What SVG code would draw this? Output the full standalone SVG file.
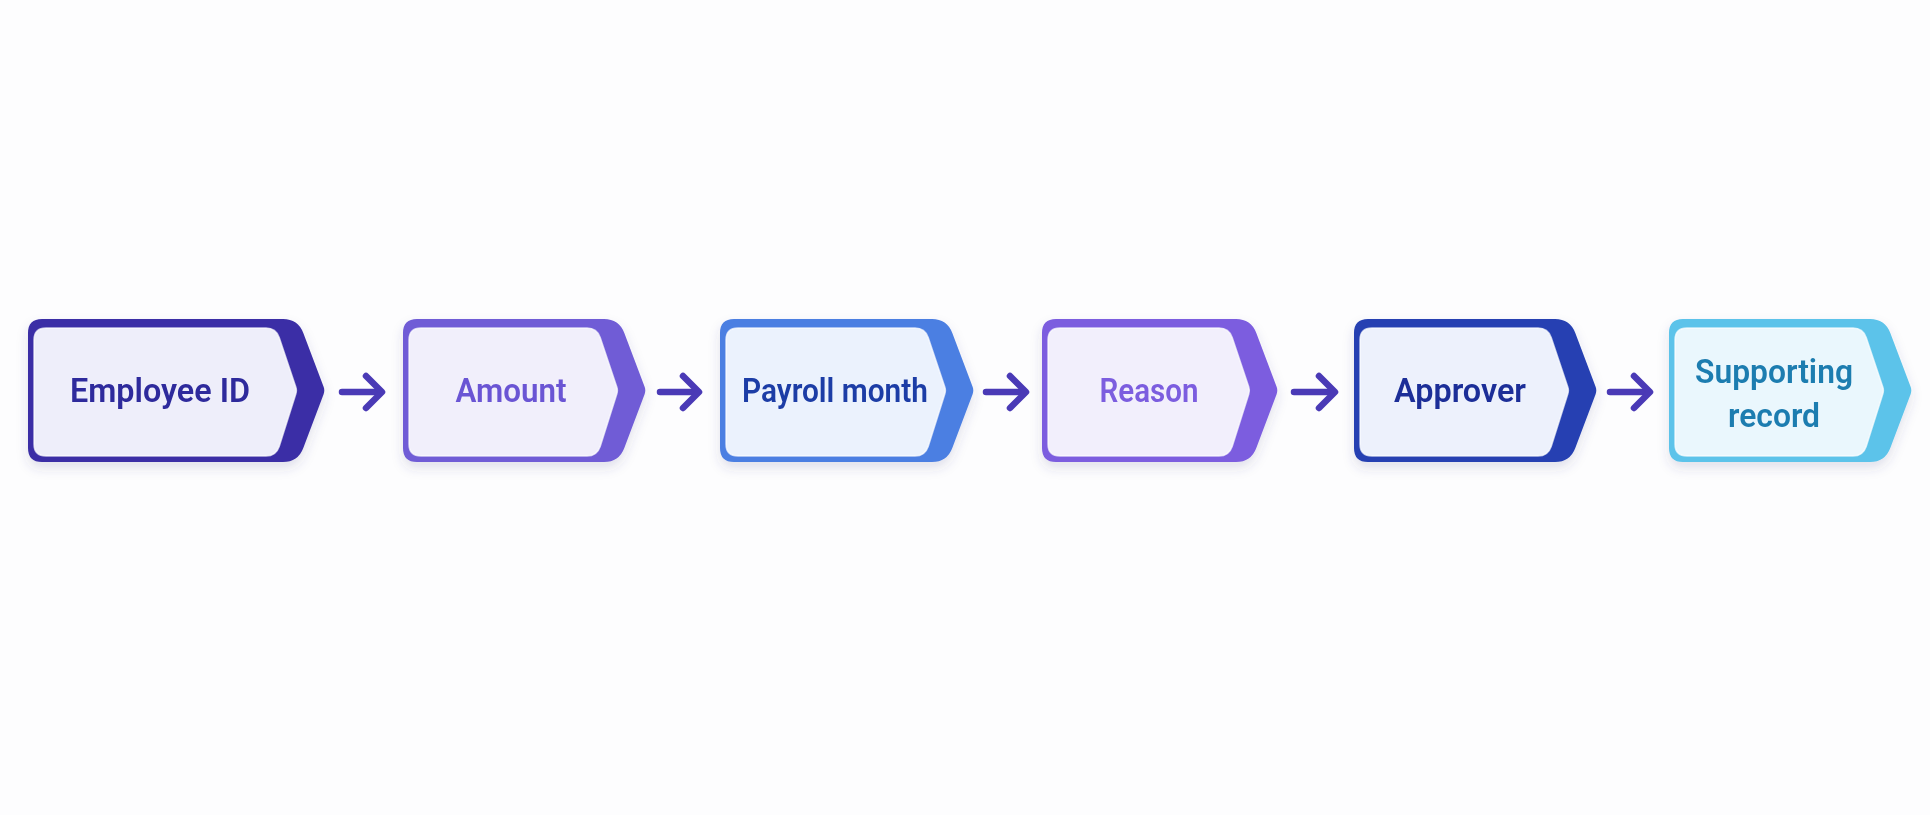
<svg xmlns="http://www.w3.org/2000/svg" width="1930" height="815" viewBox="0 0 1930 815">
<defs>
<filter id="sh" x="-10%" y="-20%" width="120%" height="150%">
<feDropShadow dx="0" dy="6" stdDeviation="6" flood-color="#3a3a80" flood-opacity="0.15"/>
</filter>
<marker id="ah" viewBox="0 0 24 40" markerWidth="24" markerHeight="40" refX="18" refY="20" orient="auto" markerUnits="userSpaceOnUse">
<path d="M4,4 L20,20 L4,36" fill="none" stroke="#4a3ab6" stroke-width="6.5" stroke-linecap="round" stroke-linejoin="round"/>
</marker>
</defs>
<style>
.inner{stroke:#ffffff;stroke-opacity:0.7;stroke-width:1.5}
.lbl{font-family:"Roboto","Noto Sans","Liberation Sans",sans-serif;font-weight:600;font-size:34px;text-anchor:middle}
.arr{fill:none;stroke:#4a3ab6;stroke-width:6.5;stroke-linecap:round;marker-end:url(#ah)}
</style>
<rect width="1930" height="815" fill="#fdfdfe"/>
<g id="n1" transform="translate(28,0)" filter="url(#sh)">
<path fill="#3b2fa6" d="M14,319 L255,319 Q270,319 275.3,333 L295.6,386.8 Q297,390.5 295.6,394.2 L275.3,448 Q270,462 255,462 L14,462 Q0,462 0,448 L0,333 Q0,319 14,319 Z"/>
<path class="inner" fill="#eeeefa" d="M18,328 L238,328 Q248,328 251.2,337.5 L267.8,387 Q269,390.5 267.8,394 L251.2,446.5 Q248,456 238,456 L18,456 Q6,456 6,444 L6,340 Q6,328 18,328 Z"/>
<text class="lbl" x="132" y="402" fill="#2d2a9c" textLength="180" lengthAdjust="spacingAndGlyphs">Employee ID</text>
</g>
<g id="n2" transform="translate(403,0)" filter="url(#sh)">
<path fill="#6f5cd6" d="M14,319 L201,319 Q216,319 221.3,333 L241.6,386.8 Q243,390.5 241.6,394.2 L221.3,448 Q216,462 201,462 L14,462 Q0,462 0,448 L0,333 Q0,319 14,319 Z"/>
<path class="inner" fill="#f1effb" d="M18,328 L184,328 Q194,328 197.2,337.5 L213.8,387 Q215,390.5 213.8,394 L197.2,446.5 Q194,456 184,456 L18,456 Q6,456 6,444 L6,340 Q6,328 18,328 Z"/>
<text class="lbl" x="108" y="402" fill="#6b55d4" textLength="111" lengthAdjust="spacingAndGlyphs">Amount</text>
</g>
<g id="n3" transform="translate(720,0)" filter="url(#sh)">
<path fill="#4c7fe2" d="M14,319 L212,319 Q227,319 232.3,333 L252.6,386.8 Q254,390.5 252.6,394.2 L232.3,448 Q227,462 212,462 L14,462 Q0,462 0,448 L0,333 Q0,319 14,319 Z"/>
<path class="inner" fill="#ebf2fd" d="M18,328 L195,328 Q205,328 208.2,337.5 L224.8,387 Q226,390.5 224.8,394 L208.2,446.5 Q205,456 195,456 L18,456 Q6,456 6,444 L6,340 Q6,328 18,328 Z"/>
<text class="lbl" x="115" y="402" fill="#1e3ea6" textLength="186" lengthAdjust="spacingAndGlyphs">Payroll month</text>
</g>
<g id="n4" transform="translate(1042,0)" filter="url(#sh)">
<path fill="#7b5ddf" d="M14,319 L194,319 Q209,319 214.3,333 L234.6,386.8 Q236,390.5 234.6,394.2 L214.3,448 Q209,462 194,462 L14,462 Q0,462 0,448 L0,333 Q0,319 14,319 Z"/>
<path class="inner" fill="#f2effc" d="M18,328 L177,328 Q187,328 190.2,337.5 L206.8,387 Q208,390.5 206.8,394 L190.2,446.5 Q187,456 177,456 L18,456 Q6,456 6,444 L6,340 Q6,328 18,328 Z"/>
<text class="lbl" x="107" y="402" fill="#7b5ddf" textLength="99" lengthAdjust="spacingAndGlyphs">Reason</text>
</g>
<g id="n5" transform="translate(1354,0)" filter="url(#sh)">
<path fill="#2541b2" d="M14,319 L201,319 Q216,319 221.3,333 L241.6,386.8 Q243,390.5 241.6,394.2 L221.3,448 Q216,462 201,462 L14,462 Q0,462 0,448 L0,333 Q0,319 14,319 Z"/>
<path class="inner" fill="#edf1fc" d="M18,328 L184,328 Q194,328 197.2,337.5 L213.8,387 Q215,390.5 213.8,394 L197.2,446.5 Q194,456 184,456 L18,456 Q6,456 6,444 L6,340 Q6,328 18,328 Z"/>
<text class="lbl" x="106" y="402" fill="#1d2f98" textLength="132" lengthAdjust="spacingAndGlyphs">Approver</text>
</g>
<g id="n6" transform="translate(1669,0)" filter="url(#sh)">
<path fill="#5bc3ea" d="M14,319 L201,319 Q216,319 221.3,333 L241.6,386.8 Q243,390.5 241.6,394.2 L221.3,448 Q216,462 201,462 L14,462 Q0,462 0,448 L0,333 Q0,319 14,319 Z"/>
<path class="inner" fill="#eaf7fd" d="M18,328 L184,328 Q194,328 197.2,337.5 L213.8,387 Q215,390.5 213.8,394 L197.2,446.5 Q194,456 184,456 L18,456 Q6,456 6,444 L6,340 Q6,328 18,328 Z"/>
<text class="lbl" x="105" y="383" fill="#1f7db0" textLength="158" lengthAdjust="spacingAndGlyphs">Supporting</text>
<text class="lbl" x="105" y="427" fill="#1f7db0" textLength="92" lengthAdjust="spacingAndGlyphs">record</text>
</g>
<g id="connectors">
<path class="arr" d="M342,392 L380,392"/>
<path class="arr" d="M660,392 L697,392"/>
<path class="arr" d="M986,392 L1024,392"/>
<path class="arr" d="M1294,392 L1333,392"/>
<path class="arr" d="M1610,392 L1648,392"/>
</g>
</svg>
